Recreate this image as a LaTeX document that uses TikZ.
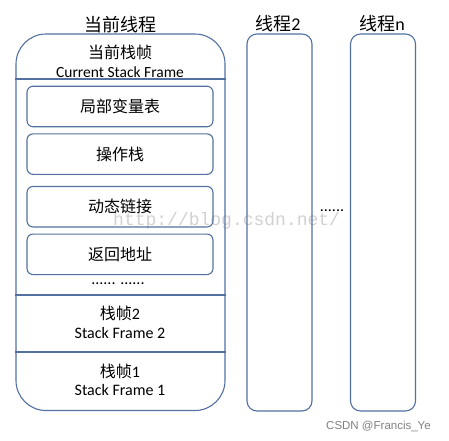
\documentclass[tikz,border=0pt]{standalone}
\usepackage{fontspec}
\setmainfont{Carlito}
\newfontfamily\cjk{Noto Sans CJK SC}
\newfontfamily\wmfont{Liberation Mono}
\newfontfamily\csdnfont{Liberation Sans}
\usetikzlibrary{positioning}
\definecolor{frameblue}{RGB}{82,112,160}

\begin{document}
\begin{tikzpicture}[
    x=1pt, y=-1pt,
    node distance=6pt,
    mainthread/.style={draw=frameblue, line width=1.1pt, rectangle, rounded corners=30pt, minimum width=209pt, minimum height=376.5pt, inner sep=0pt},
    thread/.style={draw=frameblue, line width=1.1pt, rectangle, rounded corners=10pt, minimum width=65pt, minimum height=377pt, inner sep=0pt},
    slot/.style={draw=frameblue, line width=1.1pt, rectangle, rounded corners=6pt, minimum width=186pt, minimum height=40.5pt, inner sep=0pt, font=\cjk\fontsize{16}{18}\selectfont},
    title/.style={font=\fontsize{18}{20}\selectfont, inner sep=0pt},
    txt/.style={font=\fontsize{16}{18}\selectfont, inner sep=0pt},
    divider/.style={draw=frameblue, line width=1.1pt}
]
    \useasboundingbox (0,0) rectangle (449,440);

    % watermark
    \node (wm) [anchor=base west, inner sep=0pt, text=black!18, font=\wmfont\fontsize{18}{20}\selectfont] at (113,225) {http://blog.csdn.net/};

    % Draw threads
    \node (main) [mainthread] at (120.5,222.25) {};
    \node (thread2) [thread] at (279.5,222.5) {};
    \node (threadn) [thread] at (383,222.5) {};

    \node (tmain) [title, font=\cjk\fontsize{18}{20}\selectfont] at (120,25) {当前线程};
    \node (ttwo) [title] at (278,24) {{\cjk 线程}2};
    \node (tn) [title] at (382,24) {{\cjk 线程}n};

    % current stack frame
    \node (hdrzh) [txt, font=\cjk\fontsize{16}{18}\selectfont] at (120,52) {当前栈帧};
    \node (hdren) [txt, font=\fontsize{15.5}{17}\selectfont] at (120,72) {Current Stack Frame};
    \draw [divider] (main.west |- 0,79) -- (main.east |- 0,79);

    \node (lvt) [slot] at (120,106.5) {局部变量表};
    \node (opstack) [slot, below=of lvt] {操作栈};
    \node (dynlink) [slot, below=11pt of opstack] {动态链接};
    \node (retaddr) [slot, below=of dynlink] {返回地址};
    \node (dots) [txt] at (118,284) {...... ......};

    % older frames
    \draw [divider] (main.west |- 0,295) -- (main.east |- 0,295);
    \node (sf2zh) [txt] at (120,313) {{\cjk 栈帧}2};
    \node (sf2en) [txt] at (120,333) {Stack Frame 2};
    \draw [divider] (main.west |- 0,352) -- (main.east |- 0,352);
    \node (sf1zh) [txt] at (120,371) {{\cjk 栈帧}1};
    \node (sf1en) [txt] at (120,390) {Stack Frame 1};

    \node (gapdots) [txt] at (332,211) {......};

    \node (csdn) [anchor=base west, inner sep=0pt, text=black!50, font=\csdnfont\fontsize{11.5}{13}\selectfont] at (326,429) {CSDN @Francis\_Ye};
\end{tikzpicture}
\end{document}
